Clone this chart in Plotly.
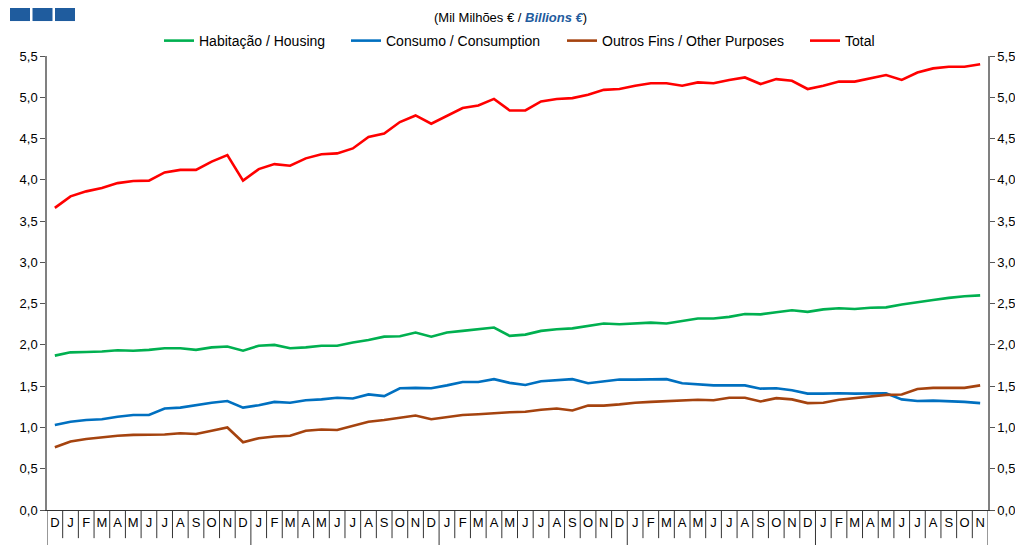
import plotly.graph_objects as go

months = ["D",
          "J", "F", "M", "A", "M", "J", "J", "A", "S", "O", "N", "D",
          "J", "F", "M", "A", "M", "J", "J", "A", "S", "O", "N", "D",
          "J", "F", "M", "A", "M", "J", "J", "A", "S", "O", "N", "D",
          "J", "F", "M", "A", "M", "J", "J", "A", "S", "O", "N", "D",
          "J", "F", "M", "A", "M", "J", "J", "A", "S", "O", "N"]

housing = [1.87, 1.91, 1.915, 1.92, 1.935, 1.93, 1.94, 1.96, 1.96, 1.94,
           1.97, 1.98, 1.93, 1.99, 2.00, 1.96, 1.97, 1.99, 1.99, 2.03,
           2.06, 2.10, 2.105, 2.15, 2.10, 2.15, 2.17, 2.19, 2.21, 2.11,
           2.125, 2.17, 2.19, 2.20, 2.23, 2.26, 2.25, 2.26, 2.27, 2.26,
           2.29, 2.32, 2.32, 2.34, 2.375, 2.37, 2.395, 2.42, 2.40, 2.43,
           2.445, 2.435, 2.45, 2.455, 2.49, 2.52, 2.545, 2.57, 2.59, 2.60]

consumption = [1.03, 1.07, 1.09, 1.10, 1.13, 1.15, 1.15, 1.23, 1.24, 1.27,
               1.30, 1.32, 1.24, 1.27, 1.31, 1.30, 1.33, 1.34, 1.36, 1.35,
               1.40, 1.38, 1.475, 1.48, 1.475, 1.51, 1.55, 1.55, 1.585, 1.54,
               1.515, 1.56, 1.57, 1.585, 1.535, 1.56, 1.58, 1.58, 1.58, 1.585,
               1.535, 1.52, 1.51, 1.51, 1.51, 1.47, 1.475, 1.45, 1.41, 1.41,
               1.415, 1.41, 1.41, 1.415, 1.34, 1.32, 1.325, 1.32, 1.31, 1.295]

other = [0.76, 0.83, 0.86, 0.88, 0.90, 0.91, 0.91, 0.915, 0.93, 0.92,
         0.96, 1.00, 0.82, 0.87, 0.89, 0.90, 0.96, 0.975, 0.97, 1.02,
         1.07, 1.09, 1.115, 1.145, 1.10, 1.125, 1.15, 1.16, 1.175, 1.185,
         1.19, 1.215, 1.23, 1.205, 1.265, 1.265, 1.28, 1.30, 1.31, 1.32,
         1.325, 1.335, 1.33, 1.36, 1.36, 1.315, 1.355, 1.34, 1.295, 1.30,
         1.335, 1.355, 1.375, 1.395, 1.40, 1.465, 1.48, 1.48, 1.48, 1.51]

total = [3.66, 3.80, 3.86, 3.90, 3.96, 3.985, 3.99, 4.09, 4.12, 4.12,
         4.22, 4.30, 3.99, 4.13, 4.19, 4.17, 4.26, 4.31, 4.32, 4.38,
         4.52, 4.56, 4.70, 4.78, 4.68, 4.78, 4.87, 4.90, 4.98, 4.84,
         4.84, 4.95, 4.98, 4.99, 5.03, 5.09, 5.10, 5.14, 5.17, 5.17,
         5.14, 5.18, 5.17, 5.21, 5.24, 5.16, 5.22, 5.20, 5.10, 5.14,
         5.19, 5.19, 5.23, 5.27, 5.21, 5.30, 5.35, 5.37, 5.37, 5.40]

series_names = ["Habitação / Housing", "Consumo / Consumption",
                "Outros Fins / Other Purposes", "Total"]
series_colors = ["#00B050", "#0070C0", "#A5430F", "#FF0000"]

x = list(range(len(months)))
FONT = "Liberation Sans, Arial, sans-serif"

# The page body has an 8px margin, so the figure is laid out in page pixels
# shifted by OFF; all positions below are given in reference-screen pixels.
OFF = 8
W, H = 1023 - OFF, 545 - OFF
L, T = 47 - OFF, 56 - OFF            # plot area top-left (screen 47,56)
PW, PH = 941, 454.5                  # plot area size
R = W - L - PW
B = H - T - PH


def px_x(p):
    return (p - OFF - L) / PW


def px_y(p):
    return (T + PH - (p - OFF)) / PH


fig = go.Figure()
legend_ids = ["legend", "legend2", "legend3", "legend4"]
for name, vals, col, lg in zip(series_names, [housing, consumption, other, total],
                               series_colors, legend_ids):
    fig.add_trace(go.Scatter(x=x, y=vals, mode="lines", name=name, legend=lg,
                             line=dict(color=col, width=2.6)))
# invisible trace to activate the right-hand axis
fig.add_trace(go.Scatter(x=x, y=total, yaxis="y2", mode="lines", showlegend=False,
                         hoverinfo="skip", line=dict(color="rgba(0,0,0,0)", width=0)))

shapes = []
# category dividers below the x axis
n = len(months)
for i in range(n + 1):
    b = i - 0.5
    long_line = i == 0 or i == n or (months[i - 1] == "D" and i > 1)
    shapes.append(dict(type="line", xref="x", yref="paper", x0=b, x1=b,
                       y0=0, y1=(-0.08 if long_line else -0.062),
                       line=dict(color="#333333", width=1)))
# blue squares top-left
for k in range(3):
    x0 = 10 + k * 22.5
    shapes.append(dict(type="rect", xref="paper", yref="paper",
                       x0=px_x(x0), x1=px_x(x0 + 20),
                       y0=px_y(21), y1=px_y(6),
                       fillcolor="#1F5C9E", line=dict(width=0)))

axis_common = dict(range=[0, 5.5], dtick=0.5, tick0=0, tickformat=".1f",
                   showgrid=False, zeroline=False, showline=True,
                   linecolor="#808080", linewidth=1.5,
                   ticks="outside", ticklen=5, tickcolor="#555555",
                   tickfont=dict(family=FONT, size=13, color="#000000"))

legend_text_x = [199, 386, 602, 845]
legend_defs = {}
for lg, tx in zip(legend_ids, legend_text_x):
    legend_defs[lg] = dict(orientation="h", x=px_x(tx - 40), y=px_y(41),
                           xanchor="left", yanchor="middle",
                           font=dict(family=FONT, size=14, color="#000000"),
                           bgcolor="rgba(0,0,0,0)", borderwidth=0)

fig.update_layout(
    width=W, height=H,
    margin=dict(l=L, r=R, t=T, b=B, autoexpand=False),
    paper_bgcolor="white", plot_bgcolor="white",
    separators=",.",
    font=dict(family=FONT, color="#000000"),
    xaxis=dict(range=[-0.5, n - 0.5], tickmode="array", tickvals=x,
               ticktext=months, ticks="", showgrid=False, zeroline=False,
               showline=True, linecolor="#333333", linewidth=1,
               tickfont=dict(family=FONT, size=13, color="#000000")),
    yaxis=dict(**axis_common, side="left"),
    yaxis2=dict(**axis_common, side="right", overlaying="y", matches="y"),
    shapes=shapes,
    annotations=[dict(xref="paper", yref="paper", x=px_x(510), y=px_y(17),
                      xanchor="center", yanchor="middle", showarrow=False,
                      text="(Mil Milhões € / <span style='color:#1F5C9E'><b><i>Billions €</i></b></span>)",
                      font=dict(family=FONT, size=13, color="#000000"))],
    showlegend=True,
    **legend_defs,
)

fig.write_html("out.html")
